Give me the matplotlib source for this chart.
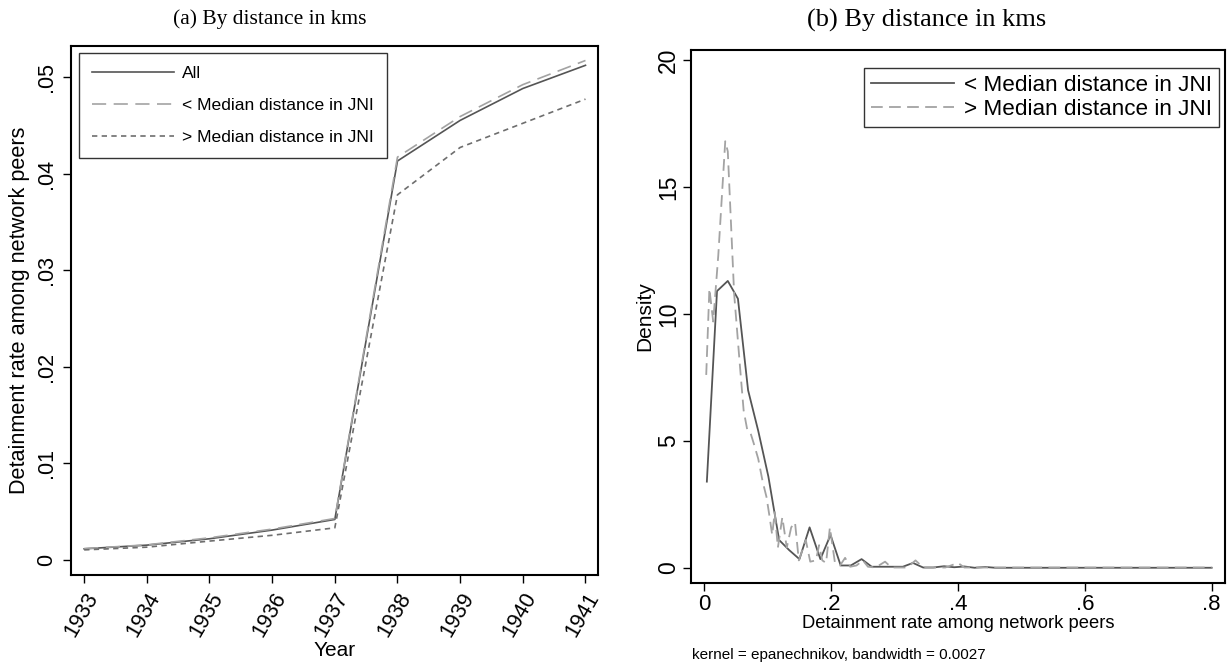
import matplotlib
matplotlib.use("Agg")
import matplotlib.pyplot as plt

# ---------------- data ----------------
years = [1933, 1934, 1935, 1936, 1937, 1938, 1939, 1940, 1941]
rate_all = [0.00116, 0.00154, 0.0022, 0.0031, 0.0042, 0.0413, 0.0455, 0.0488, 0.0512]
rate_below = [0.00118, 0.00157, 0.0023, 0.0032, 0.0043, 0.0417, 0.0459, 0.0492, 0.0517]
rate_above = [0.00105, 0.00133, 0.00196, 0.00256, 0.00333, 0.0378, 0.0427, 0.0452, 0.0477]

dens_below_x = [0.004, 0.020, 0.037, 0.053, 0.069, 0.085, 0.101, 0.118, 0.134, 0.150,
                0.166, 0.183, 0.199, 0.215, 0.231, 0.248, 0.264, 0.280, 0.296, 0.313,
                0.329, 0.345, 0.361, 0.378, 0.394, 0.410, 0.426, 0.443, 0.459, 0.475,
                0.491, 0.508, 0.524, 0.540, 0.556, 0.573, 0.589, 0.605, 0.621, 0.638,
                0.654, 0.670, 0.686, 0.703, 0.719, 0.735, 0.751, 0.768, 0.784, 0.800]
dens_below_y = [3.4, 10.9, 11.3, 10.6, 7.0, 5.4, 3.6, 1.1, 0.7, 0.35,
                1.6, 0.35, 1.3, 0.1, 0.1, 0.35, 0.05, 0.05, 0.05, 0.05,
                0.2, 0.02, 0.02, 0.07, 0.03, 0.06, 0.01, 0.04, 0.01, 0.01,
                0.01, 0.01, 0.01, 0.01, 0.01, 0.01, 0.01, 0.01, 0.01, 0.01,
                0.01, 0.01, 0.01, 0.01, 0.01, 0.01, 0.01, 0.01, 0.01, 0.01]

dens_above_x = [0.003, 0.008, 0.014, 0.022, 0.033, 0.037, 0.047, 0.056, 0.062, 0.068,
                0.073, 0.078, 0.085, 0.092, 0.098, 0.103, 0.107, 0.111, 0.116, 0.123,
                0.130, 0.137, 0.143, 0.149, 0.160, 0.167, 0.176, 0.181, 0.186, 0.192,
                0.198, 0.206, 0.214, 0.222, 0.230, 0.240, 0.250, 0.258, 0.270, 0.285,
                0.295, 0.320, 0.333, 0.345, 0.380, 0.400, 0.410, 0.450, 0.600, 0.800]
dens_above_y = [7.6, 11.0, 9.7, 12.3, 16.8, 16.4, 10.8, 8.0, 6.2, 5.4,
                5.3, 4.9, 4.3, 3.4, 2.8, 2.0, 1.3, 2.2, 0.8, 2.0,
                0.8, 1.6, 1.8, 0.3, 1.1, 0.25, 0.3, 0.9, 0.3, 0.2,
                1.6, 0.2, 0.1, 0.4, 0.05, 0.1, 0.3, 0.05, 0.02, 0.25,
                0.02, 0.02, 0.3, 0.02, 0.02, 0.2, 0.02, 0.02, 0.02, 0.02]

left_yticks = [0, 0.01, 0.02, 0.03, 0.04, 0.05]
left_yticklabels = ["0", ".01", ".02", ".03", ".04", ".05"]
right_xticks = [0, 0.2, 0.4, 0.6, 0.8]
right_xticklabels = ["0", ".2", ".4", ".6", ".8"]
right_yticks = [0, 5, 10, 15, 20]

# ---------------- style ----------------
plt.rcParams['font.family'] = ['Liberation Sans', 'DejaVu Sans']
W, H = 1227, 667
fig = plt.figure(figsize=(W / 100, H / 100), dpi=100)

def ax_rect(x0, y0, x1, y1):
    return [x0 / W, 1 - y1 / H, (x1 - x0) / W, (y1 - y0) / H]

dark = '#555555'
light = '#a3a3a3'
mid = '#6e6e6e'
serif = ['Liberation Serif', 'DejaVu Serif']

# ---------------- left panel ----------------
ax1 = fig.add_axes(ax_rect(71, 46, 598, 575))
ax1.plot(years, rate_all, color=dark, lw=1.2, label='All')
ax1.plot(years, rate_below, color=light, lw=1.2, dashes=(8.5, 4.5), label='< Median distance in JNI')
ax1.plot(years, rate_above, color=mid, lw=1.2, dashes=(3.2, 2.6), label='> Median distance in JNI')
ax1.set_xlim(1932.79, 1941.2)
ax1.set_ylim(-0.00155, 0.0532)
ax1.set_xticks(years)
ax1.set_xticklabels([str(y) for y in years], rotation=60, ha='right', rotation_mode='anchor', fontsize=15.5)
ax1.set_yticks(left_yticks)
ax1.set_yticklabels(left_yticklabels, rotation=90, va='center', fontsize=15.5)
ax1.tick_params(direction='out', length=6, width=1.0, color='black', pad=4)
for s in ax1.spines.values():
    s.set_linewidth(1.5)
ax1.set_ylabel('Detainment rate among network peers', fontsize=15.6)
ax1.yaxis.set_label_coords(-(71 - 20) / 527, 0.5)
ax1.yaxis.label.set_verticalalignment('center')
ax1.set_xlabel('Year', fontsize=15)
ax1.xaxis.set_label_coords(0.5, -(650 - 575) / 529)
ax1.xaxis.label.set_verticalalignment('center')
fig.text(270 / W, 1 - 19 / H, '(a) By distance in kms', ha='center', va='center',
         fontsize=15.5, family=serif)
leg1 = ax1.legend(loc='upper left', bbox_to_anchor=(8 / 527, 1 - 7 / 529), fontsize=12.6,
                  handlelength=4.7, handletextpad=0.45, labelspacing=0.95, borderpad=0.75,
                  frameon=True, fancybox=False, edgecolor='black', borderaxespad=0)
leg1.get_frame().set_linewidth(1.0)

# ---------------- right panel ----------------
ax2 = fig.add_axes(ax_rect(691, 50, 1225, 583))
ax2.plot(dens_below_x, dens_below_y, color=dark, lw=1.3, label='< Median distance in JNI')
ax2.plot(dens_above_x, dens_above_y, color=light, lw=1.3, dashes=(6.5, 3.5), label='> Median distance in JNI')
ax2.set_xlim(-0.021, 0.821)
ax2.set_ylim(-0.59, 20.39)
ax2.set_xticks(right_xticks)
ax2.set_xticklabels(right_xticklabels, fontsize=16)
ax2.set_yticks(right_yticks)
ax2.set_yticklabels([str(v) for v in right_yticks], rotation=90, va='center', fontsize=16.5)
ax2.tick_params(direction='out', length=6, width=1.0, color='black', pad=2)
for s in ax2.spines.values():
    s.set_linewidth(1.5)
ax2.set_ylabel('Density', fontsize=15)
ax2.yaxis.set_label_coords(-(691 - 645) / 534, 0.5)
ax2.yaxis.label.set_verticalalignment('center')
ax2.set_xlabel('Detainment rate among network peers', fontsize=13.2)
ax2.xaxis.set_label_coords(0.5, -(623 - 583) / 533)
ax2.xaxis.label.set_verticalalignment('center')
fig.text(692 / W, 1 - 655 / H, 'kernel = epanechnikov, bandwidth = 0.0027',
         ha='left', va='center', fontsize=11)
fig.text(927 / W, 1 - 20 / H, '(b) By distance in kms', ha='center', va='center',
         fontsize=19, family=serif)
leg2 = ax2.legend(loc='upper right', bbox_to_anchor=((1219 - 691) / 534, 1 - (68 - 50) / 533),
                  fontsize=16.2, handlelength=3.7, handletextpad=0.45, labelspacing=0.15,
                  borderpad=0.3, frameon=True, fancybox=False, edgecolor='black', borderaxespad=0)
leg2.get_frame().set_linewidth(1.0)

fig.savefig('out.png', dpi=100)
